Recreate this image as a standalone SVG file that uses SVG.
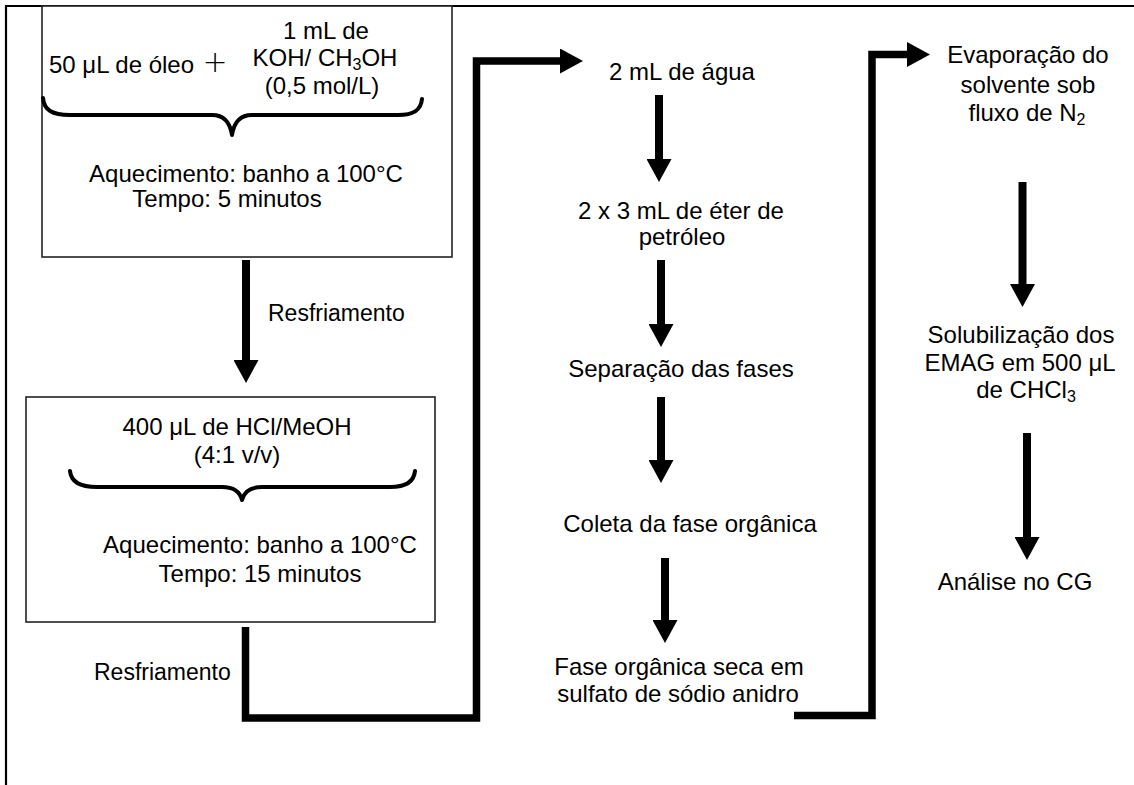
<svg xmlns="http://www.w3.org/2000/svg" width="1134" height="785" viewBox="0 0 1134 785">
<style>
text{font-family:"Liberation Sans",Arial,sans-serif;font-size:24px;fill:#000;}
.c{text-anchor:middle;}
.box{fill:#fff;stroke:#222;stroke-width:1.6;}
.frame{fill:none;stroke:#000;stroke-width:2.2;}
.brace{fill:none;stroke:#000;stroke-width:4;stroke-linecap:round;stroke-linejoin:round;}
.arr{fill:none;stroke:#000;stroke-width:8;marker-end:url(#ah);}
.elbow{fill:none;stroke:#000;stroke-width:7.5;stroke-linejoin:miter;marker-end:url(#ah);}
.sub{font-size:16px;}
.res{font-size:23px;}
</style>
<defs>
<marker id="ah" viewBox="0 0 23 25" markerWidth="23" markerHeight="25" refX="0" refY="12.5" orient="auto" markerUnits="userSpaceOnUse">
<path d="M0,0 L23,12.5 L0,25 Z" fill="#000"/>
</marker>
</defs>
<rect width="1134" height="785" fill="#fff"/>
<g id="frame">
<path class="frame" d="M6,785 V6 H1134"/>
</g>
<g id="box1">
<rect class="box" x="42" y="6" width="410" height="251"/>
<text class="c" x="326" y="39">1 mL de</text>
<text x="49" y="73">50 μL de óleo</text>
<text x="215" y="72" class="c" style="font-size:30px;font-weight:300;font-family:'DejaVu Sans',sans-serif">+</text>
<text class="c" x="325" y="66">KOH/ CH<tspan class="sub" dy="4">3</tspan><tspan dy="-4">OH</tspan></text>
<text class="c" x="322" y="94">(0,5 mol/L)</text>
<path class="brace" d="M43,98 C44,110 52,115 70,115 L212,115 C224,115 230,122 232,135 C234,122 240,115 252,115 L398,115 C414,115 421,110 422,99"/>
<text class="c" x="246" y="182">Aquecimento: banho a 100°C</text>
<text class="c" x="227" y="207">Tempo: 5 minutos</text>
</g>
<g id="label1">
<text class="res" x="268" y="321">Resfriamento</text>
</g>
<g id="box2">
<rect class="box" x="26" y="397" width="409" height="225"/>
<text class="c" x="237" y="435">400 μL de HCl/MeOH</text>
<text class="c" x="237" y="463">(4:1 v/v)</text>
<path class="brace" d="M70,471 C71,482 80,487 97,487 L222,487 C234,487 240,492 242,500 C244,492 250,487 262,487 L390,487 C406,487 414,482 415,471"/>
<text class="c" x="260" y="553">Aquecimento: banho a 100°C</text>
<text class="c" x="260" y="582">Tempo: 15 minutos</text>
</g>
<g id="label2">
<text class="res" x="94" y="680">Resfriamento</text>
</g>
<g id="n_agua"><text class="c" x="682" y="80">2 mL de água</text></g>
<g id="n_eter"><text class="c" x="681" y="219">2 x 3 mL de éter de</text><text class="c" x="682" y="245">petróleo</text></g>
<g id="n_sep"><text class="c" x="681" y="377">Separação das fases</text></g>
<g id="n_coleta"><text class="c" x="690" y="532">Coleta da fase orgânica</text></g>
<g id="n_seca"><text class="c" x="679" y="675">Fase orgânica seca em</text><text class="c" x="678" y="702">sulfato de sódio anidro</text></g>
<g id="n_evap"><text class="c" x="1028" y="63">Evaporação do</text><text class="c" x="1028" y="93">solvente sob</text><text class="c" x="1027" y="121">fluxo de N<tspan class="sub" dy="4">2</tspan></text></g>
<g id="n_solub"><text class="c" x="1021" y="343">Solubilização dos</text><text class="c" x="1020" y="371">EMAG em 500 μL</text><text class="c" x="1026" y="398">de CHCl<tspan class="sub" dy="4">3</tspan></text></g>
<g id="n_cg"><text class="c" x="1015" y="590">Análise no CG</text></g>
<g id="connectors">
<path class="arr" d="M246,260 V360"/>
<path class="elbow" d="M245.5,627 V718 H476.5 V61 H560"/>
<path class="arr" d="M659,95 V159"/>
<path class="arr" d="M661,260 V324"/>
<path class="arr" d="M661,397 V460"/>
<path class="arr" d="M665,558 V620"/>
<path class="elbow" d="M794,715.5 H872 V54.5 H907"/>
<path class="arr" d="M1022.5,182 V284"/>
<path class="arr" d="M1027,433 V537"/>
</g>
</svg>
